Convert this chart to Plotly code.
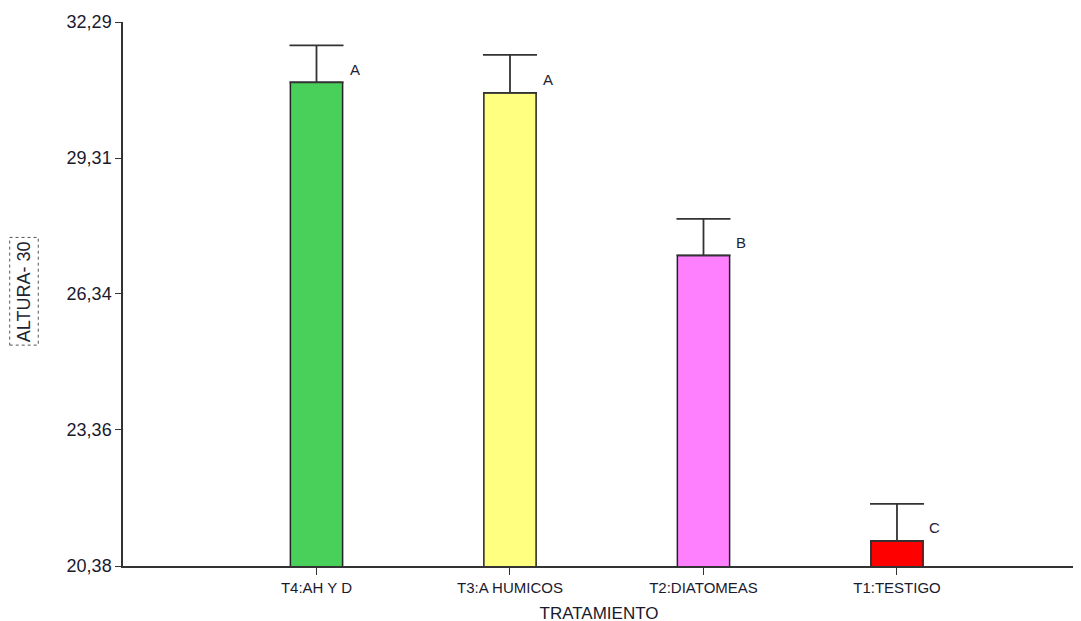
import plotly.graph_objects as go

categories = ["T4:AH Y D", "T3:A HUMICOS", "T2:DIATOMEAS", "T1:TESTIGO"]
means = [30.97, 30.74, 27.18, 20.93]
errors = [0.81, 0.83, 0.80, 0.81]
letters = ["A", "A", "B", "C"]
colors = ["#48D05A", "#FFFF80", "#FF80FF", "#FF0000"]
ytick_vals = [20.38, 23.36, 26.34, 29.31, 32.29]
ytick_text = ["20,38", "23,36", "26,34", "29,31", "32,29"]

fig = go.Figure()
fig.add_trace(go.Bar(
    x=categories, y=means, width=0.27,
    marker=dict(color=colors, line=dict(color="#222222", width=1.5)),
    error_y=dict(type="data", array=errors, symmetric=False, arrayminus=[0]*4,
                 color="#333333", thickness=1.8, width=27),
))

for c, m, e, l in zip(categories, means, errors, letters):
    fig.add_annotation(x=c, y=m, text=l, showarrow=False, xshift=38, yshift=13,
                       font=dict(family="Liberation Sans, Arial", size=15, color="#222233"))

fig.add_annotation(xref="paper", yref="paper", x=-0.104, y=0.505, xanchor="center", yanchor="middle",
                   text="ALTURA- 30", textangle=-90, showarrow=False,
                   font=dict(family="Liberation Sans, Arial", size=18, color="#222233"))
fig.add_shape(type="rect", xref="paper", yref="paper", x0=-0.119, x1=-0.089, y0=0.406, y1=0.604,
              line=dict(color="#555555", width=1, dash="dot"))

fig.update_layout(
    width=1081, height=621,
    margin=dict(l=115, r=14, t=14, b=63, autoexpand=False),
    paper_bgcolor="white", plot_bgcolor="white",
    showlegend=False,
    font=dict(family="Liberation Sans, Arial", color="#1a1a2e"),
    xaxis=dict(range=[-1, 3.92], showline=True, linecolor="#333333", linewidth=1.5,
               ticks="outside", ticklen=7, tickcolor="#333333", showgrid=False, automargin=False,
               tickfont=dict(size=15), title=dict(text="TRATAMIENTO", font=dict(size=17), standoff=12)),
    yaxis=dict(range=[20.38, 32.29], tickvals=ytick_vals, ticktext=ytick_text,
               showline=True, linecolor="#333333", linewidth=1.5, automargin=False,
               ticks="outside", ticklen=6, tickcolor="#333333", showgrid=False, zeroline=False,
               tickfont=dict(size=18)),
)

fig.write_html("out.html")
